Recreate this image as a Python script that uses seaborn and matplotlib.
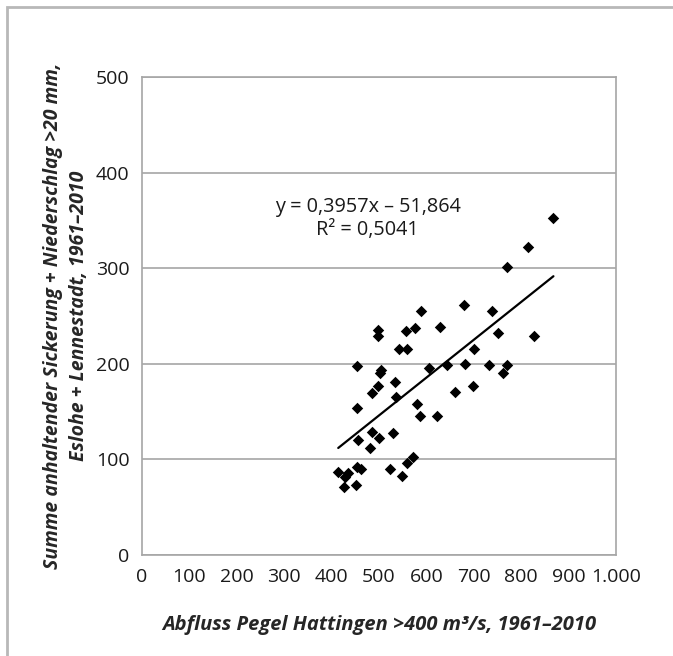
import numpy as np
import pandas as pd
import seaborn as sns
import matplotlib.pyplot as plt
from matplotlib.patches import Rectangle
from matplotlib.ticker import FuncFormatter

# Abfluss Pegel Hattingen (m3/s) vs. Summe Sickerung + Niederschlag (mm)
abfluss = [414, 426, 435, 428, 451, 454, 462, 456, 454, 454,
           481, 485, 485, 498, 498, 502, 504, 498, 500, 523,
           530, 534, 536, 542, 548, 558, 560, 560, 571, 576,
           580, 586, 588, 606, 622, 629, 643, 660, 679, 681,
           698, 700, 733, 739, 752, 762, 769, 771, 814, 828, 868]
summe = [87, 71, 86, 82, 73, 92, 90, 120, 154, 198,
         112, 129, 169, 235, 229, 190, 193, 177, 122, 90,
         128, 181, 165, 216, 83, 234, 96, 215, 103, 237,
         158, 145, 255, 196, 145, 239, 199, 171, 261, 200,
         177, 215, 199, 255, 232, 190, 199, 301, 322, 229, 352]

slope = 0.3957
intercept = -51.864
r2 = 0.5041

x_ticks = list(range(0, 1001, 100))
y_ticks = list(range(0, 501, 100))

df = pd.DataFrame({"abfluss": abfluss, "summe": summe})

sns.set_style("white")
plt.rcParams["font.family"] = ["Open Sans", "DejaVu Sans"]

fig = plt.figure(figsize=(6.73, 6.56), dpi=100)
ax = fig.add_axes([142 / 673, 1 - 555 / 656, 474 / 673, 478 / 656])

grey = "#a6a6a6"

sns.scatterplot(data=df, x="abfluss", y="summe", marker="D", s=34,
                color="black", edgecolor="black", linewidth=0, ax=ax, zorder=3)

# linear trendline over the data range
trend = pd.DataFrame({"x": [min(abfluss), max(abfluss)]})
trend["y"] = slope * trend["x"] + intercept
sns.lineplot(data=trend, x="x", y="y", color="black", linewidth=1.6, ax=ax, zorder=2)

ax.set_xlim(0, 1000)
ax.set_ylim(0, 500)
ax.set_xticks(x_ticks)
ax.set_yticks(y_ticks)
ax.xaxis.set_major_formatter(FuncFormatter(lambda v, p: f"{int(v):,}".replace(",", ".")))
ax.yaxis.grid(True, color=grey, linewidth=1.2)
ax.xaxis.grid(False)
ax.set_axisbelow(True)
for s in ax.spines.values():
    s.set_color(grey)
    s.set_linewidth(1.2)
ax.tick_params(axis="both", direction="out", length=5, width=1.2, color=grey,
               labelsize=14, labelcolor="#1a1a1a")
ax.tick_params(axis="x", pad=4)
ax.tick_params(axis="y", pad=4)

ax.set_xlabel("Abfluss Pegel Hattingen >400 m³/s, 1961–2010", fontsize=14.5,
              fontweight="bold", fontstyle="italic")
ax.xaxis.label.set_va("center")
ax.xaxis.set_label_coords(0.5, -70 / 478)
ax.set_ylabel("Summe anhaltender Sickerung + Niederschlag >20 mm,\nEslohe + Lennestadt, 1961–2010",
              fontsize=14, fontweight="bold", fontstyle="italic", linespacing=1.45)
ax.yaxis.label.set_va("center")
ax.yaxis.set_label_coords(-76 / 474, 0.5)

ax.text(476, 352, f"y = {slope:.4f}x – {abs(intercept):.3f}\nR² = {r2:.4f}".replace(".", ","),
        ha="center", va="center", fontsize=14.3, linespacing=1.2, color="#1a1a1a")

fig.patches.append(Rectangle((7 / 673, -0.1), 1.0, 1.1 - 7 / 656, transform=fig.transFigure,
                             fill=False, edgecolor="#b8b8b8", linewidth=2))

fig.savefig("out.png", dpi=100)
